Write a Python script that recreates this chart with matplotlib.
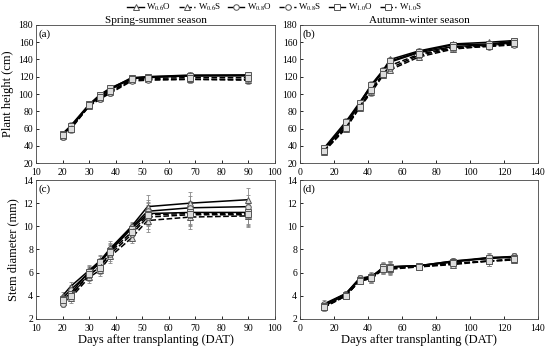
import matplotlib
matplotlib.use("Agg")
import matplotlib.pyplot as plt

plt.rcParams['font.family'] = ['Liberation Serif', 'DejaVu Serif']
plt.rcParams['mathtext.fontset'] = 'stix'

labels = ['W$_{0.6}$O', 'W$_{0.6}$S', 'W$_{0.8}$O', 'W$_{0.8}$S', 'W$_{1.0}$O', 'W$_{1.0}$S']
markers = ['^', '^', 'o', 'o', 's', 's']
styles = ['-', '--', '-', '--', '-', '--']

# spring-summer sampling days, autumn-winter sampling days
days_ss = [20, 23, 30, 34, 38, 46, 52, 68, 90]
days_aw = [14, 27, 35, 42, 49, 53, 70, 90, 111, 126]

# (a) plant height, spring-summer
height_ss = [
    [52, 62, 87, 98, 106, 119, 120, 122, 122],
    [51, 60, 86, 95, 102, 116, 117, 117, 116],
    [53, 61, 87, 97, 105, 118, 119, 121, 121],
    [50, 59, 86, 94, 101, 115, 116, 117, 117],
    [54, 63, 88, 99, 107, 118, 120, 121, 122],
    [52, 60, 87, 96, 103, 117, 118, 119, 119],
]
err_a = [3, 4, 2, 3, 3, 2, 2, 4, 4]

# (b) plant height, autumn-winter
height_aw = [
    [35, 66, 89, 111, 128, 140, 150, 158, 160, 162],
    [33, 60, 84, 102, 122, 128, 143, 152, 156, 158],
    [36, 64, 88, 108, 127, 137, 148, 155, 157, 160],
    [34, 62, 85, 104, 124, 130, 145, 153, 155, 157],
    [37, 68, 90, 110, 127, 138, 149, 157, 158, 161],
    [34, 61, 85, 105, 123, 133, 146, 154, 156, 159],
]
err_b = [3, 4, 3, 4, 3, 3, 3, 2, 2, 2]

# (c) stem diameter, spring-summer
stem_ss = [
    [4.0, 4.8, 6.2, 7.0, 8.1, 10.0, 11.7, 12.0, 12.3],
    [3.5, 3.8, 5.6, 6.2, 7.4, 9.0, 10.5, 10.8, 10.9],
    [3.8, 4.5, 6.0, 6.8, 8.0, 9.9, 11.3, 11.6, 11.7],
    [3.3, 4.0, 5.8, 6.5, 7.6, 9.3, 10.8, 11.0, 11.0],
    [3.7, 4.2, 6.1, 6.9, 7.9, 9.8, 11.1, 11.2, 11.2],
    [3.6, 4.0, 5.9, 6.4, 7.8, 9.5, 11.0, 11.1, 11.1],
]
err_c = [0.3, 0.4, 0.5, 0.5, 0.6, 0.4, 1.0, 1.0, 1.0]

# (d) stem diameter, autumn-winter
stem_aw = [
    [3.2, 4.2, 5.5, 5.7, 6.4, 6.5, 6.6, 7.0, 7.3, 7.4],
    [3.0, 4.0, 5.3, 5.5, 6.3, 6.3, 6.5, 6.7, 7.0, 7.1],
    [3.3, 4.2, 5.5, 5.6, 6.4, 6.5, 6.6, 7.0, 7.2, 7.4],
    [3.1, 4.0, 5.3, 5.5, 6.4, 6.4, 6.5, 6.8, 7.0, 7.1],
    [3.1, 4.1, 5.4, 5.6, 6.5, 6.5, 6.6, 6.9, 7.3, 7.3],
    [3.0, 4.0, 5.3, 5.5, 6.3, 6.4, 6.5, 6.8, 7.0, 7.2],
]
err_d = [0.3, 0.2, 0.3, 0.4, 0.4, 0.5, 0.2, 0.3, 0.4, 0.3]

fig = plt.figure(figsize=(5.5, 3.48), dpi=100)
W, H = 550, 348
def box(l, t, r, b):
    return [l / W, 1 - b / H, (r - l) / W, (b - t) / H]

ax_a = fig.add_axes(box(36, 25, 275, 163))
ax_b = fig.add_axes(box(300, 25, 538, 163))
ax_c = fig.add_axes(box(36, 180, 275, 319))
ax_d = fig.add_axes(box(300, 180, 538, 319))

panels = [
    (ax_a, days_ss, height_ss, err_a, (10, 100, 10), (20, 180, 20), '(a)'),
    (ax_b, days_aw, height_aw, err_b, (0, 140, 20), (20, 180, 20), '(b)'),
    (ax_c, days_ss, stem_ss, err_c, (10, 100, 10), (2, 14, 2), '(c)'),
    (ax_d, days_aw, stem_aw, err_d, (0, 140, 20), (2, 14, 2), '(d)'),
]

for ax, days, series, err, xr, yr, tag in panels:
    for i, vals in enumerate(series):
        ax.errorbar(days, vals, yerr=err, fmt='none', ecolor='#888888',
                    elinewidth=0.6, capsize=1.5, capthick=0.6, zorder=1)
        ax.plot(days, vals, linestyle=styles[i], color='black', lw=1.1,
                marker=markers[i], ms=4, mfc='#dddddd', mec='#555555',
                mew=0.7, zorder=2)
    ax.set_xlim(xr[0], xr[1])
    ax.set_ylim(yr[0], yr[1])
    ax.set_xticks(range(xr[0], xr[1] + 1, xr[2]))
    ax.set_yticks(range(yr[0], yr[1] + 1, yr[2]))
    ax.tick_params(direction='in', labelsize=7, length=2, width=0.6, pad=2)
    ax.tick_params(axis='x', pad=3.5)
    for s in ax.spines.values():
        s.set_linewidth(0.6)
        s.set_color('#444444')
    ax.text(0.012, 0.97, tag, transform=ax.transAxes, ha='left', va='top', fontsize=8)

ax_a.set_title('Spring-summer season', fontsize=8, pad=1)
ax_b.set_title('Autumn-winter season', fontsize=8, pad=1)
ax_a.set_ylabel('Plant height (cm)', fontsize=9, labelpad=3)
ax_c.set_ylabel('Stem diameter (mm)', fontsize=9, labelpad=3)
ax_c.set_xlabel('Days after transplanting (DAT)', fontsize=9, labelpad=1)
ax_d.set_xlabel('Days after transplanting (DAT)', fontsize=9, labelpad=1)

leg_handles = []
for i in range(6):
    lh, = ax_a.plot([], [], linestyle=styles[i], color='black', lw=1.0,
                    marker=markers[i], ms=4, mfc='white', mec='#555555', mew=0.7)
    leg_handles.append(lh)
fig.legend(leg_handles, labels, loc='upper center', bbox_to_anchor=(0.5, 1.0),
           ncol=6, frameon=False, fontsize=6.5, handlelength=1.8, columnspacing=0.8,
           handletextpad=0.3, borderaxespad=0.1, borderpad=0.1)

fig.savefig('out.png', dpi=100)
